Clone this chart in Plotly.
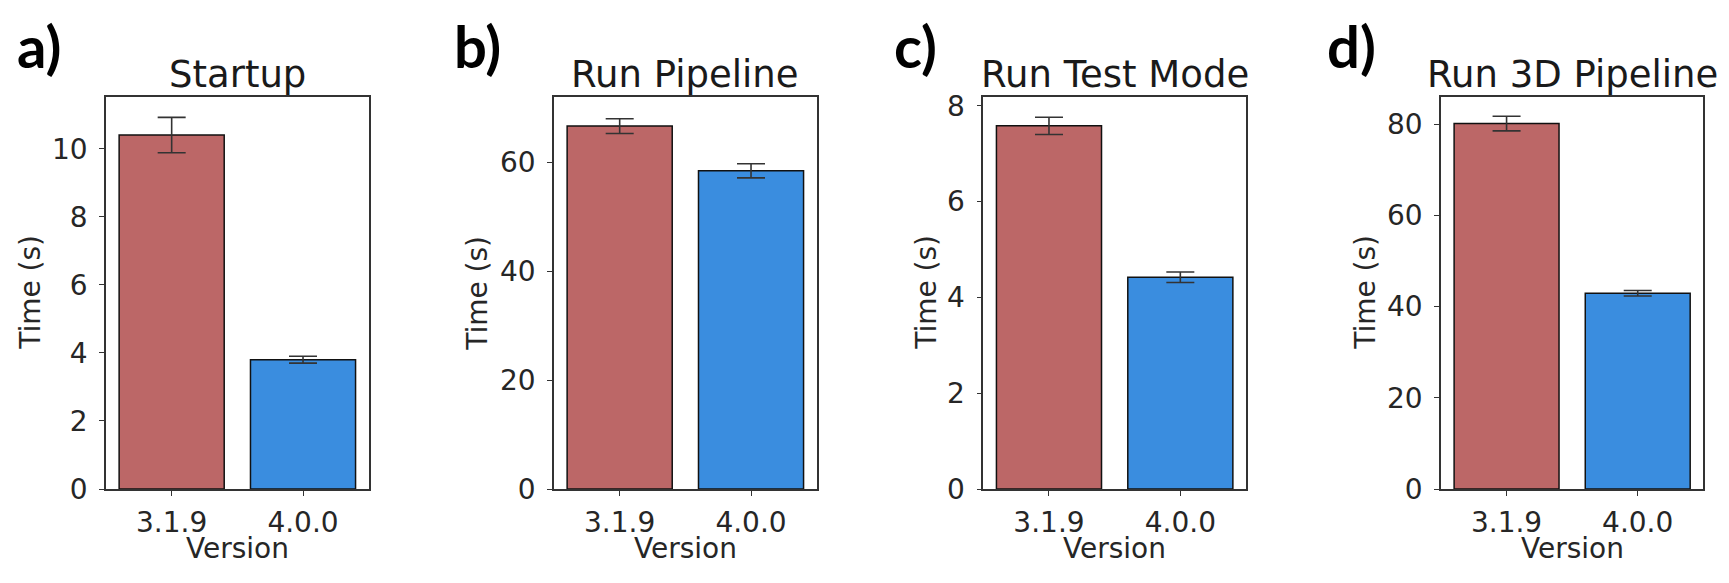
import plotly.graph_objects as go

# Benchmark timings (mean and spread) for the two releases
versions = ["3.1.9", "4.0.0"]
panel_titles = ["Startup", "Run Pipeline", "Run Test Mode", "Run 3D Pipeline"]
panel_letters = ["a)", "b)", "c)", "d)"]

startup_mean = [10.4, 3.80]
startup_err = [0.52, 0.10]
pipeline_mean = [66.6, 58.4]
pipeline_err = [1.35, 1.3]
testmode_mean = [7.58, 4.42]
testmode_err = [0.18, 0.11]
pipeline3d_mean = [80.1, 42.9]
pipeline3d_err = [1.6, 0.6]

y_limits = [11.53, 72, 8.19, 86]
y_steps = [2, 20, 2, 20]

means = [startup_mean, pipeline_mean, testmode_mean, pipeline3d_mean]
errs = [startup_err, pipeline_err, testmode_err, pipeline3d_err]

bar_colors = ["#BC6767", "#3A8DDF"]

W, H = 1729, 583
# panel frames in pixels (left, right); shared top/bottom
frames_x = [(106, 368.7), (554, 816.7), (983.3, 1246), (1441, 1703.3)]
frame_top, frame_bottom = 93.5, 502.7
ylabel_x = [31, 478, 927, 1366]
letter_x = [15, 452, 892, 1325]


def px(x):
    return x / W


def py(y):
    return 1 - y / H


TICK_FONT = dict(family="DejaVu Sans", size=28, color="#262626")
AXIS_COLOR = "#333333"

fig = go.Figure()
layout = dict(
    width=W, height=H,
    margin=dict(l=0, r=0, t=0, b=0),
    paper_bgcolor="white", plot_bgcolor="white",
    showlegend=False,
    bargap=0.2,
)
annotations = []

for i in range(4):
    xa = "x" if i == 0 else f"x{i + 1}"
    ya = "y" if i == 0 else f"y{i + 1}"
    fig.add_trace(go.Bar(
        x=versions, y=means[i], xaxis=xa, yaxis=ya,
        width=0.8,
        marker=dict(color=bar_colors, line=dict(color="#111111", width=1.5)),
        error_y=dict(type="data", array=errs[i], visible=True,
                     color=AXIS_COLOR, thickness=1.6, width=14),
    ))
    xkey = "xaxis" if i == 0 else f"xaxis{i + 1}"
    ykey = "yaxis" if i == 0 else f"yaxis{i + 1}"
    x0, x1 = frames_x[i]
    layout[xkey] = dict(
        domain=[px(x0), px(x1)], anchor=ya,
        type="category", range=[-0.5, 1.5],
        showline=True, mirror=True, linecolor=AXIS_COLOR, linewidth=1.5,
        ticks="outside", ticklen=5, tickwidth=1.3, tickcolor=AXIS_COLOR,
        ticklabelstandoff=3,
        tickfont=TICK_FONT, showgrid=False, zeroline=False,
    )
    layout[ykey] = dict(
        domain=[py(frame_bottom), py(frame_top)], anchor=xa,
        range=[0, y_limits[i]], dtick=y_steps[i], tick0=0,
        showline=True, mirror=True, linecolor=AXIS_COLOR, linewidth=1.5,
        ticks="outside", ticklen=5, tickwidth=1.3, tickcolor=AXIS_COLOR,
        ticklabelstandoff=6,
        tickfont=TICK_FONT, showgrid=False, zeroline=False,
    )
    cx = (x0 + x1) / 2
    # subplot title
    annotations.append(dict(
        text=panel_titles[i], xref="paper", yref="paper",
        x=px(cx), y=py(70), xanchor="center", yanchor="middle",
        showarrow=False, font=dict(family="DejaVu Sans", size=37, color="#1a1a1a"),
    ))
    # x axis label
    annotations.append(dict(
        text="Version", xref="paper", yref="paper",
        x=px(cx), y=py(564.5), xanchor="center", yanchor="middle",
        showarrow=False, font=dict(family="DejaVu Sans", size=28, color="#262626"),
    ))
    # y axis label
    annotations.append(dict(
        text="Time (s)", xref="paper", yref="paper",
        x=px(ylabel_x[i]), y=py((frame_top + frame_bottom) / 2),
        xanchor="center", yanchor="middle", textangle=-90,
        showarrow=False, font=dict(family="DejaVu Sans", size=28, color="#262626"),
    ))
    # panel letter
    annotations.append(dict(
        text=f"<b>{panel_letters[i]}</b>", xref="paper", yref="paper",
        x=px(letter_x[i]), y=py(40), xanchor="left", yanchor="middle",
        showarrow=False, font=dict(family="Lato", size=58, color="#000000"),
    ))

layout["annotations"] = annotations
fig.update_layout(**layout)
fig.write_html("out.html")
